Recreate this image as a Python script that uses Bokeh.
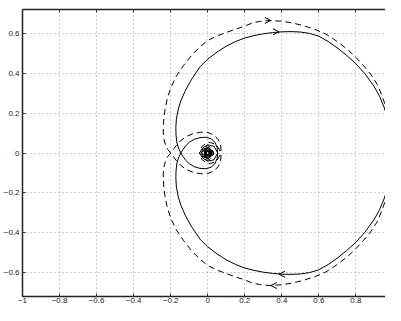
from bokeh.plotting import figure
from bokeh.models import Arrow, OpenHead, LinearAxis, FixedTicker, CustomJSTickFormatter, Range1d
from bokeh.embed import file_html
from bokeh.resources import INLINE

# Nyquist curves, negative-frequency branch (upper half-plane first).
# The positive-frequency branch is drawn as its mirror image in the real axis.
solid_re = [1.0, 0.997, 0.988, 0.971, 0.953, 0.928, 0.897, 0.847, 0.80, 0.75, 0.70, 0.65,
            0.60, 0.55, 0.50, 0.45, 0.40, 0.35, 0.30, 0.25, 0.20, 0.15, 0.10, 0.05, 0.0,
            -0.04, -0.087, -0.12, -0.145, -0.16, -0.169, -0.172, -0.171, -0.167, -0.158,
            -0.145, -0.133, -0.118, -0.098, -0.072, -0.042, -0.01, 0.02, 0.04, 0.051, 0.054,
            0.034, 0.0, -0.026, -0.033, -0.021, 0.0, 0.018, 0.0236, 0.0155, 0.0, -0.0136,
            -0.018, -0.012, 0.0, 0.0108, 0.0145, 0.0097, 0.0, -0.0088, -0.012, -0.0081, 0.0,
            0.0074, 0.010, 0.0068, 0.0, -0.0063, -0.0087, -0.006, 0.0, 0.0055, 0.0075]
solid_im = [0.0, 0.06, 0.12, 0.177, 0.228, 0.285, 0.336, 0.40, 0.448, 0.49, 0.527, 0.56,
            0.586, 0.600, 0.607, 0.609, 0.608, 0.604, 0.598, 0.589, 0.577, 0.559, 0.536,
            0.506, 0.471, 0.434, 0.37, 0.315, 0.262, 0.216, 0.17, 0.128, 0.09, 0.055, 0.025,
            0.0, -0.018, -0.037, -0.055, -0.069, -0.077, -0.079, -0.071, -0.052, -0.027, 0.0,
            0.034, 0.041, 0.026, 0.0, -0.021, -0.0275, -0.018, 0.0, 0.0155, 0.0206, 0.0136,
            0.0, -0.012, -0.016, -0.0108, 0.0, 0.0097, 0.013, 0.0088, 0.0, -0.0081, -0.011,
            -0.0074, 0.0, 0.0068, 0.0093, 0.0063, 0.0, -0.006, -0.008, -0.0055, 0.0]

dashed_re = [1.0, 0.997, 0.99, 0.977, 0.962, 0.94, 0.915, 0.88, 0.84, 0.80, 0.76, 0.72,
             0.68, 0.636, 0.58, 0.52, 0.46, 0.40, 0.336, 0.28, 0.24, 0.20, 0.15, 0.10, 0.05,
             0.0, -0.045, -0.087, -0.13, -0.17, -0.198, -0.218, -0.231, -0.238, -0.24,
             -0.238, -0.228, -0.216, -0.2, -0.185, -0.168, -0.145, -0.115, -0.08, -0.04, 0.0,
             0.035, 0.058, 0.07, 0.073, 0.045, 0.0, -0.032, -0.044, -0.027, 0.0, 0.023, 0.032,
             0.02, 0.0, -0.018, -0.025, -0.016, 0.0, 0.015, 0.021, 0.014, 0.0, -0.013, -0.018,
             -0.012, 0.0, 0.011, 0.015]
dashed_im = [0.0, 0.06, 0.12, 0.178, 0.232, 0.29, 0.345, 0.395, 0.44, 0.48, 0.515, 0.545,
             0.572, 0.598, 0.62, 0.638, 0.652, 0.661, 0.665, 0.66, 0.652, 0.637, 0.621, 0.605,
             0.587, 0.565, 0.53, 0.49, 0.44, 0.385, 0.33, 0.275, 0.215, 0.16, 0.11, 0.075,
             0.042, 0.018, 0.0, -0.018, -0.04, -0.063, -0.083, -0.097, -0.104, -0.103, -0.09,
             -0.066, -0.035, 0.0, 0.045, 0.055, 0.032, 0.0, -0.027, -0.037, -0.023, 0.0, 0.02,
             0.028, 0.018, 0.0, -0.016, -0.023, -0.015, 0.0, 0.014, 0.019, 0.013, 0.0, -0.012,
             -0.016, -0.011, 0.0]

# direction arrows: tip position and direction (+1 right, -1 left)
arrow_x = [0.385, 0.341, 0.385, 0.341]
arrow_y = [0.608, 0.665, -0.608, -0.665]
arrow_dir = [1, 1, -1, -1]

x_ticks = [-1, -0.8, -0.6, -0.4, -0.2, 0, 0.2, 0.4, 0.6, 0.8]
y_ticks = [-0.6, -0.4, -0.2, 0, 0.2, 0.4, 0.6]

p = figure(width=385, height=305, x_range=Range1d(-1, 0.96), y_range=Range1d(-0.72, 0.72),
           output_backend="svg", toolbar_location=None,
           min_border_left=19, min_border_right=0, min_border_top=9, min_border_bottom=0)
p.outline_line_color = None
p.background_fill_color = "white"
p.border_fill_color = "white"

fmt = CustomJSTickFormatter(code="""
const s = Number(tick.toFixed(2)).toString();
return s.replace("-", "\u2212");
""")
blank = CustomJSTickFormatter(code="return '';")

bottom = p.below[0]
left = p.left[0]
bottom.ticker = FixedTicker(ticks=x_ticks)
left.ticker = FixedTicker(ticks=y_ticks)
top = LinearAxis(ticker=FixedTicker(ticks=x_ticks), formatter=blank)
top.major_label_standoff = 0
top.major_label_text_font_size = "1px"
p.add_layout(top, "above")

for ax in (bottom, left, top):
    ax.axis_line_color = "#222222"
    ax.axis_line_width = 1.5
    ax.major_tick_in = 3
    ax.major_tick_out = 0
    ax.major_tick_line_color = "#333333"
    ax.minor_tick_line_color = None
for ax in (bottom, left):
    ax.formatter = fmt
    ax.major_label_text_font = "Liberation Sans"
    ax.major_label_text_color = "#222222"
    ax.major_label_text_font_size = "8px"
bottom.major_label_standoff = 1
left.major_label_standoff = 3

p.xgrid.ticker = FixedTicker(ticks=x_ticks)
p.ygrid.ticker = FixedTicker(ticks=y_ticks)
for g in (p.xgrid, p.ygrid):
    g.grid_line_color = "#999999"
    g.grid_line_dash = "1 3"
    g.grid_line_width = 1

neg_solid_im = [-v for v in solid_im]
neg_dashed_im = [-v for v in dashed_im]

p.line(solid_re, solid_im, line_color="black", line_width=1)
p.line(solid_re, neg_solid_im, line_color="black", line_width=1)
p.line(dashed_re, dashed_im, line_color="black", line_width=1, line_dash="6 4")
p.line(dashed_re, neg_dashed_im, line_color="black", line_width=1, line_dash="6 4")

for ax_, ay_, d in zip(arrow_x, arrow_y, arrow_dir):
    p.add_layout(Arrow(end=OpenHead(size=6, line_width=1, line_color="black"),
                       x_start=ax_ - 0.01 * d, y_start=ay_, x_end=ax_, y_end=ay_,
                       line_alpha=0))

open("out.html", "w").write(file_html(p, INLINE))
